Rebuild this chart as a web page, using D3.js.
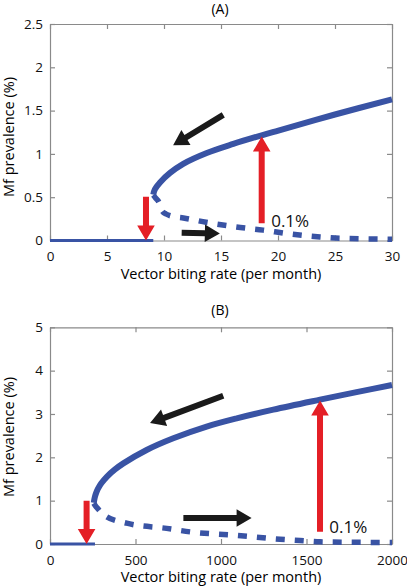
<!DOCTYPE html>
<html><head><meta charset="utf-8">
<script src="https://cdn.jsdelivr.net/npm/d3@7"></script>
<style>body{margin:0;background:#fff}svg{display:block}text{font-family:"Open Sans",sans-serif}</style>
</head><body><svg id="c" width="407" height="587"></svg>
<script>
// ---------- Panel A data ----------
const xTicksA = [0,5,10,15,20,25,30];
const yTicksA = [0,0.5,1,1.5,2,2.5];
const zeroA = [[0,0],[9.06,0]];
const stableA = [[9.06,0.53],[9.2,0.59],[9.65,0.67],[10.53,0.78],[11.69,0.885],[13.75,1.01],[16.08,1.115],[18.57,1.215],[20.03,1.27],[25,1.455],[30,1.63]];
const unstableA = [[9.06,0.525],[9.3,0.485],[9.56,0.439],[9.69,0.387],[9.87,0.335],[10.18,0.306],[10.79,0.277],[11.7,0.26],[13.7,0.21],[16.7,0.15],[18.7,0.12],[20.8,0.08],[23.7,0.04],[25.4,0.025],[30,0.015]];
const redArrowsA = [[8.42,0.506,8.42,0.0],[18.57,0.2,18.57,1.2]];
const blackArrowsA = [[15.2,1.45,10.8,1.10],[11.55,0.09,14.9,0.08]];
const labelA = [19.4,0.16,"0.1%"];

// ---------- Panel B data ----------
const xTicksB = [0,500,1000,1500,2000];
const yTicksB = [0,1,2,3,4,5];
const zeroB = [[0,0],[263,0]];
const stableB = [[256,0.95],[262,1.08],[270,1.18],[280,1.27],[300,1.4],[332,1.55],[380,1.72],[429,1.86],[565,2.17],[721,2.44],[916,2.71],[1092,2.9],[1306,3.1],[1579,3.33],[1800,3.51],[2000,3.67]];
const unstableB = [[256,0.94],[268,0.87],[283,0.8],[305,0.7],[331,0.63],[448,0.48],[682,0.36],[819,0.28],[1091,0.2],[1345,0.11],[1462,0.08],[1579,0.05],[1750,0.04],[2000,0.035]];
const redArrowsB = [[214,1.0,214,0.0],[1579,0.28,1579,3.31]];
const blackArrowsB = [[1013,3.42,585,2.79],[780,0.6,1179,0.6]];
const labelB = [1633,0.26,"0.1%"];

const svg = d3.select("#c");
const BLUE = "#3953a4", RED = "#e41f26", BLACK = "#1a1a1a", AXIS = "#8a8a8a";

function arrow(g, x1,y1,x2,y2, color){
  const dx=x2-x1, dy=y2-y1, L=Math.hypot(dx,dy), ux=dx/L, uy=dy/L, nx=-uy, ny=ux;
  const hl=15, hw=8.8, sw=3;
  const bx=x2-ux*hl, by=y2-uy*hl;
  const pts=[[x1+nx*sw,y1+ny*sw],[bx+nx*sw,by+ny*sw],[bx+nx*hw,by+ny*hw],[x2,y2],[bx-nx*hw,by-ny*hw],[bx-nx*sw,by-ny*sw],[x1-nx*sw,y1-ny*sw]];
  g.append("polygon").attr("points",pts.map(p=>p.join(",")).join(" ")).attr("fill",color);
}

function panel(o){
  const x = d3.scaleLinear().domain(o.xd).range([50,392]);
  const y = d3.scaleLinear().domain(o.yd).range(o.yr);
  const g = svg.append("g");
  const fmt = d3.format("");
  const ax = [
    [d3.axisBottom(x).tickValues(o.xt).tickFormat(fmt).tickSize(-5).tickSizeOuter(0).tickPadding(11), `translate(0,${o.yr[0]})`],
    [d3.axisTop(x).tickValues(o.xt).tickFormat("").tickSize(-5).tickSizeOuter(0), `translate(0,${o.yr[1]})`],
    [d3.axisLeft(y).tickValues(o.yt).tickFormat(fmt).tickSize(-5).tickSizeOuter(0).tickPadding(7), `translate(50,0)`],
    [d3.axisRight(y).tickValues(o.yt).tickFormat("").tickSize(-5).tickSizeOuter(0), `translate(392,0)`]
  ];
  ax.forEach(([a,t])=>{
    const s=g.append("g").attr("transform",t).call(a);
    s.selectAll("path,line").attr("stroke",AXIS).attr("stroke-width",1.2);
    s.selectAll("text").attr("fill","#111").style("font-size","13.5px").style("font-family","Open Sans");
  });
  const smooth = d3.line().x(d=>x(d[0])).y(d=>y(d[1])).curve(d3.curveCatmullRom.alpha(0.5));
  const mono = d3.line().x(d=>x(d[0])).y(d=>y(d[1])).curve(d3.curveMonotoneX);
  g.append("path").attr("d",d3.line().x(d=>x(d[0])).y(d=>y(d[1]))(o.zero)).attr("fill","none").attr("stroke",BLUE).attr("stroke-width",3);
  g.append("path").attr("d",smooth(o.stable)).attr("fill","none").attr("stroke",BLUE).attr("stroke-width",6);
  g.append("path").attr("d",mono(o.unstable)).attr("fill","none").attr("stroke",BLUE).attr("stroke-width",5.5).attr("stroke-dasharray","9,10");
  o.red.forEach(a=>arrow(g,x(a[0]),y(a[1]),x(a[2]),y(a[3]),RED));
  o.black.forEach(a=>arrow(g,x(a[0]),y(a[1]),x(a[2]),y(a[3]),BLACK));
  g.append("text").attr("x",x(o.label[0])).attr("y",y(o.label[1])).text(o.label[2]).style("font-size","17px").attr("fill","#111");
  g.append("text").attr("x",220).attr("y",o.titleY).attr("text-anchor","middle").style("font-size","14px").text(o.title);
  g.append("text").attr("x",221).attr("y",o.xlabY).attr("text-anchor","middle").style("font-size","14.5px").text("Vector biting rate (per month)");
  g.append("text").attr("transform",`translate(13.5,${o.ylabC}) rotate(-90)`).attr("text-anchor","middle").style("font-size","14.5px").text("Mf prevalence (%)");
}

panel({xd:[0,30],yd:[0,2.5],yr:[240.5,24],xt:xTicksA,yt:yTicksA,zero:zeroA,stable:stableA,unstable:unstableA,red:redArrowsA,black:blackArrowsA,label:labelA,title:"(A)",titleY:13.5,xlabY:279,ylabC:137});
panel({xd:[0,2000],yd:[0,5],yr:[544,327.3],xt:xTicksB,yt:yTicksB,zero:zeroB,stable:stableB,unstable:unstableB,red:redArrowsB,black:blackArrowsB,label:labelB,title:"(B)",titleY:315,xlabY:582,ylabC:437});
</script></body></html>
